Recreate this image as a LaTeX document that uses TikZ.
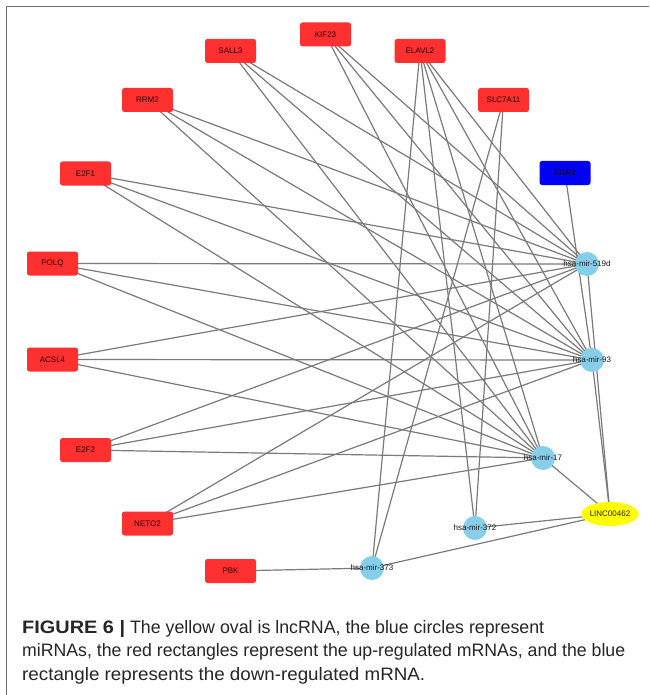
\documentclass[tikz,border=0pt]{standalone}
\usepackage{fontspec}
\setmainfont{Liberation Sans}
\usetikzlibrary{backgrounds,shapes.geometric}
\definecolor{upred}{RGB}{255,48,48}
\definecolor{downblue}{RGB}{0,0,245}
\definecolor{mirblue}{RGB}{135,206,235}
\definecolor{lncyellow}{RGB}{255,255,0}
\definecolor{edgegray}{RGB}{122,122,122}
\definecolor{framegray}{RGB}{110,110,110}
\tikzset{
  genebox/.style={rectangle, rounded corners=2.5pt, minimum width=51pt, minimum height=24pt, inner sep=0pt, font=\fontsize{8}{9}\selectfont, text=black!85!red},
  upbox/.style={genebox, fill=upred},
  downbox/.style={genebox, fill=downblue, text=black},
  mircirc/.style={circle, fill=mirblue, minimum size=24pt, inner sep=0pt},
  mirlabel/.style={inner sep=0pt, font=\fontsize{8}{9}\selectfont, text=black!90},
  lncnode/.style={ellipse, fill=lncyellow, minimum width=52pt, minimum height=24pt, inner sep=0pt, font=\fontsize{8}{9}\selectfont, text=black!85},
  edge/.style={draw=edgegray, line width=1.2pt},
  captext/.style={anchor=base west, inner sep=0pt, font=\fontsize{18}{24}\selectfont, text=black!85}
}
\begin{document}
\begin{tikzpicture}[x=1pt,y=-1pt]
\useasboundingbox (0,0) rectangle (649,695);
% frame
\draw[framegray, line width=1pt] (6,695) -- (6,7) -- (649,7);
% mRNA nodes
\node[upbox] (KIF23) at (325.5,34.5) {KIF23};
\node[upbox] (SALL3) at (230.5,51) {SALL3};
\node[upbox] (ELAVL2) at (420,51) {ELAVL2};
\node[upbox] (RRM2) at (147.5,100) {RRM2};
\node[upbox] (SLC7A11) at (503.5,100) {SLC7A11};
\node[upbox] (E2F1) at (85.5,173.5) {E2F1};
\node[downbox] (EGR2) at (565,173) {EGR2};
\node[upbox] (POLQ) at (52.5,263.5) {POLQ};
\node[upbox] (ACSL4) at (52.5,359.5) {ACSL4};
\node[upbox] (E2F2) at (85.5,450) {E2F2};
\node[upbox] (NETO2) at (147.5,523.5) {NETO2};
\node[upbox] (PBK) at (230.5,571) {PBK};
% miRNA nodes
\node[mircirc] (m519) at (587,264) {};
\node[mircirc] (m93) at (592,360) {};
\node[mircirc] (m17) at (543,458) {};
\node[mircirc] (m372) at (475,528) {};
\node[mircirc] (m373) at (372,568) {};
\node[mirlabel] (l519) at (m519) {hsa-mir-519d};
\node[mirlabel] (l93) at (m93) {hsa-mir-93};
\node[mirlabel] (l17) at (m17) {hsa-mir-17};
\node[mirlabel] (l372) at (m372) {hsa-mir-372};
\node[mirlabel] (l373) at (m373) {hsa-mir-373};
% lncRNA
\node[lncnode] (LINC) at (610,514) {LINC00462};
% edges
\begin{scope}[on background layer]
\fill[white] (0,0) rectangle (649,695);
\foreach \g in {E2F1,POLQ,ACSL4,E2F2,NETO2,RRM2,SALL3,KIF23}
  \foreach \m in {m519,m93,m17}
    \draw[edge] (\g.center) -- (\m.center);
\foreach \m in {m519,m93,m17,m372,m373}
  \draw[edge] (ELAVL2.center) -- (\m.center);
\foreach \m in {m519,m93,m17,m372,m373}
  \draw[edge] (LINC.center) -- (\m.center);
\draw[edge] (SLC7A11.center) -- (m372.center);
\draw[edge] (SLC7A11.center) -- (m373.center);
\draw[edge] (PBK.center) -- (m373.center);
\draw[edge] (EGR2.center) -- (m93.center);
\end{scope}
% caption
\node[captext] (cap1) at (22,633) {\resizebox{522pt}{\height}{\scalebox{1.12}[1]{\bfseries FIGURE 6 |} The yellow oval is lncRNA, the blue circles represent}};
\node[captext] (cap2) at (22,656.5) {\resizebox{603pt}{\height}{miRNAs, the red rectangles represent the up-regulated mRNAs, and the blue}};
\node[captext] (cap3) at (22,680) {\resizebox{403pt}{\height}{rectangle represents the down-regulated mRNA.}};
\end{tikzpicture}
\end{document}
